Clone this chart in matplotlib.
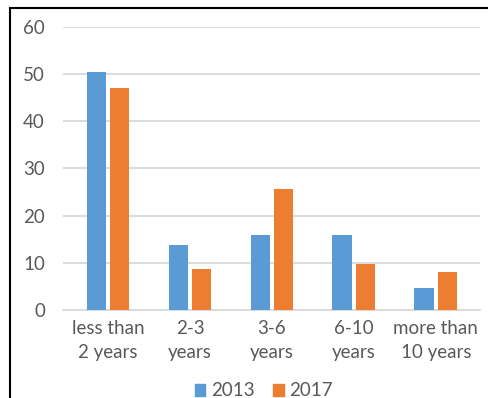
import numpy as np
from matplotlib import pyplot as plt
from matplotlib.lines import Line2D
from matplotlib.patches import Patch

categories = ["less than\n2 years", "2-3\nyears", "3-6\nyears", "6-10\nyears", "more than\n10 years"]
years = ["2013", "2017"]
values_2013 = [50.5, 13.8, 15.8, 15.8, 4.7]
values_2017 = [47, 8.7, 25.6, 9.8, 8]
yticks = [0, 10, 20, 30, 40, 50, 60]

blue = "#5B9BD5"
orange = "#ED7D31"
grey = "#595959"


def main():
    plt.rcParams['font.family'] = ['Lato', 'DejaVu Sans']
    W, H = 488, 398
    fig = plt.figure(figsize=(W / 100, H / 100), dpi=100)
    ax = fig.add_axes([63 / W, (H - 310) / H, (480 - 63) / W, (310 - 27) / H])

    x = np.arange(len(categories))
    ax.bar(x - 0.143, values_2013, width=0.235, color=blue, zorder=3)
    ax.bar(x + 0.143, values_2017, width=0.235, color=orange, zorder=3)

    ax.set_xlim(-0.55, 4.54)
    ax.set_ylim(0, 60)
    ax.set_yticks(yticks)
    ax.set_xticks(x)
    ax.set_xticklabels(categories, linespacing=1.55)
    ax.grid(axis='y', color="#D9D9D9", lw=1.3, zorder=0)
    ax.tick_params(axis='both', length=0, labelsize=13.5, colors=grey)
    ax.tick_params(axis='y', pad=13)
    ax.tick_params(axis='x', pad=7)
    for s in ["top", "right", "left"]:
        ax.spines[s].set_visible(False)
    ax.spines["bottom"].set_color("#D9D9D9")
    ax.spines["bottom"].set_linewidth(1.3)

    handles = [Patch(color=blue), Patch(color=orange)]
    fig.legend(handles, years, loc="center", bbox_to_anchor=(264 / W, (H - 391) / H),
               ncol=2, frameon=False, fontsize=13.5, handlelength=0.55, handleheight=0.55,
               handletextpad=0.3, columnspacing=1.0, labelcolor=grey, borderpad=0)

    # screenshot border at left and top
    fig.add_artist(Line2D([10 / W, 10 / W], [0, 1 - 8 / H], color="black", lw=1.5,
                          transform=fig.transFigure))
    fig.add_artist(Line2D([10 / W, 1], [1 - 8 / H, 1 - 8 / H], color="black", lw=1.5,
                          transform=fig.transFigure))

    plt.savefig("out.png", dpi=100)


if __name__ == "__main__":
    main()
